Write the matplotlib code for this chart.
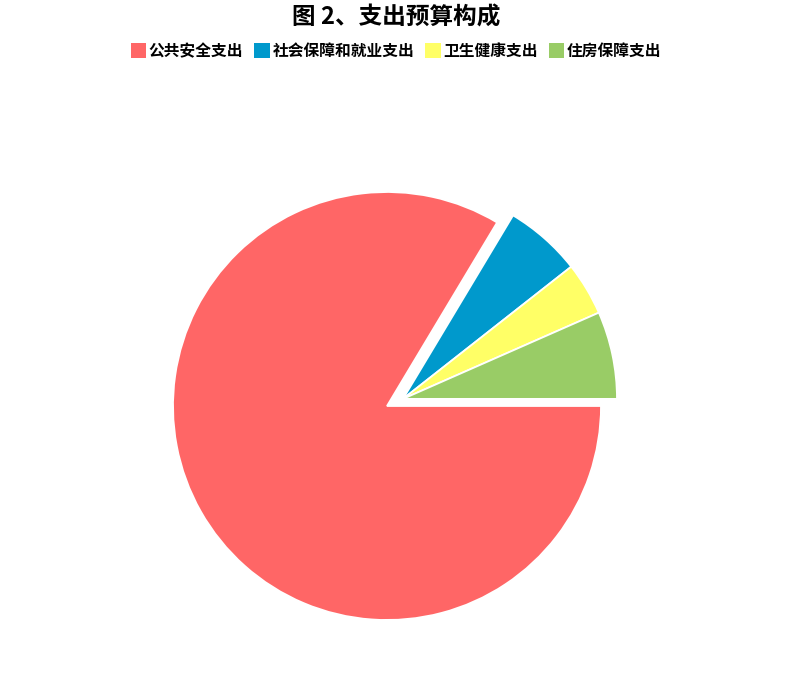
import numpy as np
import matplotlib.pyplot as plt
from matplotlib.patches import Patch

plt.rcParams['font.family'] = ['Noto Sans CJK SC', 'DejaVu Sans']

# budget composition (share of total, %)
categories = ['公共安全支出', '社会保障和就业支出', '卫生健康支出', '住房保障支出']
values = [83.6, 5.8, 4.0, 6.6]
colors = ['#FF6666', '#0099CC', '#FFFF66', '#99CC66']

fig = plt.figure(figsize=(8, 6.85), dpi=100)
ax = fig.add_axes([0, 0, 1, 1])

cx, cy = 387, 279
wedges, _ = ax.pie(values, colors=colors,
                   startangle=0, counterclock=False,
                   center=(cx, cy), radius=214,
                   wedgeprops=dict(edgecolor='white', linewidth=1.3))

# the three small slices are pulled out together as one group
ang = np.deg2rad(24)
off = 17.5
for w in wedges[1:]:
    w.set_center((cx + off * np.cos(ang), cy + off * np.sin(ang)))

ax.set_xlim(0, 800)
ax.set_ylim(0, 685)
ax.set_aspect('equal')
ax.axis('off')

fig.text(0.495, 0.992, '图 2、支出预算构成', ha='center', va='top',
         fontsize=17, fontweight='bold')

handles = [Patch(facecolor=c, edgecolor='none') for c in colors]
fig.legend(handles, categories, loc='upper center', ncol=4,
           bbox_to_anchor=(0.495, 0.958), frameon=False,
           prop=dict(size=11.3, weight='bold'),
           handlelength=1.0, handleheight=1.0, handletextpad=0.15,
           columnspacing=0.7)

fig.savefig('out.png', dpi=100)
